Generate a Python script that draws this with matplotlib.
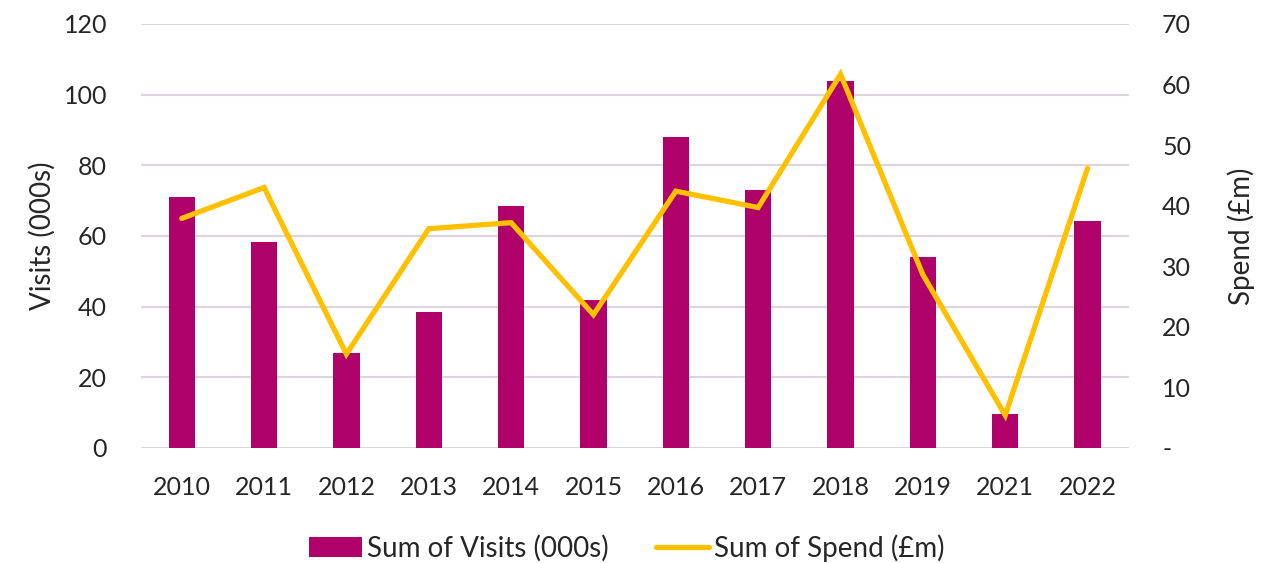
import matplotlib
matplotlib.use("Agg")
from matplotlib import pyplot as plt
from matplotlib.ticker import FuncFormatter
import numpy as np

plt.rcParams['font.family'] = ['Lato', 'DejaVu Sans']

years = ['2010', '2011', '2012', '2013', '2014', '2015', '2016', '2017', '2018', '2019', '2021', '2022']
visits = [71.1, 58.2, 27.0, 38.5, 68.6, 41.8, 88.0, 73.1, 103.9, 54.0, 9.7, 64.3]
spend = [37.9, 43.0, 15.5, 36.2, 37.2, 22.0, 42.4, 39.7, 61.7, 28.6, 5.4, 46.2]

bar_col = '#B0006A'
line_col = '#FFC000'
grid_col = '#DCD5DD'
txt_col = '#262626'

fig = plt.figure(figsize=(12.66, 5.63), dpi=100)
ax = fig.add_axes([0.111, 0.2043, 0.7806, 0.7531])
ax2 = ax.twinx()

x = np.arange(len(years))
bars = ax.bar(x, visits, width=0.32, color=bar_col, zorder=2, label='Sum of Visits (000s)')
line, = ax2.plot(x, spend, color=line_col, lw=3.8, solid_capstyle='round',
                 solid_joinstyle='miter', label='Sum of Spend (£m)')

ax.set_xlim(-0.5, len(years) - 0.5)
ax.set_ylim(0, 120)
ax2.set_ylim(0, 70)
ax.set_yticks(range(0, 121, 20))
ax2.set_yticks(range(0, 71, 10))
ax2.yaxis.set_major_formatter(FuncFormatter(lambda v, p: '-' if v == 0 else '%d' % v))
ax.set_xticks(x)
ax.set_xticklabels(years)

ax.grid(axis='y', color=grid_col, lw=1.5, zorder=0)
ax.set_axisbelow(True)
for a in (ax, ax2):
    for s in a.spines.values():
        s.set_visible(False)
    a.tick_params(length=0, labelsize=18, colors=txt_col)
ax.tick_params(axis='y', pad=24)
ax.tick_params(axis='x', pad=20)
ax2.tick_params(axis='y', pad=24)

ax.set_ylabel('Visits (000s)', fontsize=20, color=txt_col, labelpad=6)
ax2.set_ylabel('Spend (£m)', fontsize=20, color=txt_col, labelpad=26)

fig.legend(handles=[bars, line], loc='center', bbox_to_anchor=(0.495, 0.027), ncol=2,
           frameon=False, fontsize=20, handlelength=1.9, handletextpad=0.18,
           columnspacing=1.7, labelcolor=txt_col)

fig.savefig('out.png', dpi=100)
